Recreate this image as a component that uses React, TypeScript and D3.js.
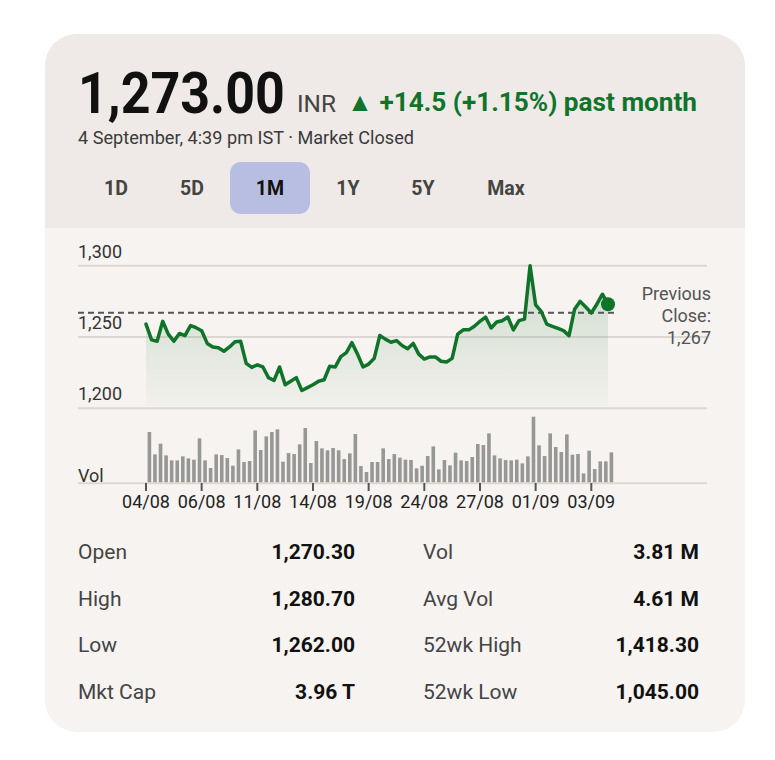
import React from "react";
import * as d3 from "d3";

const prices: number[] = [
  1259, 1248, 1247, 1261, 1252, 1247, 1252.5, 1251, 1258, 1256.5,
  1254.4, 1245.5, 1243, 1242.5, 1240, 1243, 1246.7, 1247, 1231.5, 1228.7,
  1230.5, 1229, 1221.5, 1219.5, 1229, 1216.5, 1219, 1221.5, 1212.5, 1214.5,
  1216.5, 1219, 1220, 1229.5, 1229, 1236.2, 1239, 1246, 1238, 1229,
  1231, 1235, 1251, 1248.5, 1246.3, 1247.5, 1244, 1241.8, 1245.5, 1238,
  1234.5, 1236, 1236, 1233, 1232.5, 1235, 1252, 1255, 1255, 1257.5,
  1261, 1264, 1256.3, 1260.5, 1261.4, 1264, 1255, 1261.5, 1262.5, 1300,
  1272.5, 1268, 1259, 1257.5, 1256, 1254.5, 1251, 1269.5, 1275, 1271,
  1266.8, 1273, 1280, 1273,
];

const volumes: number[] = [
  152, 85, 117, 82, 67, 67, 79, 73, 69, 133,
  67, 44, 85, 83, 74, 51, 100, 62, 65, 157,
  98, 139, 152, 160, 63, 89, 86, 115, 164, 59,
  125, 103, 97, 104, 97, 71, 88, 146, 50, 32,
  62, 62, 103, 71, 86, 75, 69, 68, 43, 51,
  80, 109, 40, 68, 52, 90, 67, 65, 77, 116,
  113, 148, 82, 73, 68, 67, 69, 58, 79, 198,
  112, 80, 148, 107, 92, 145, 84, 86, 28, 96,
  41, 64, 64, 91,
];

const xTickIdx: number[] = [0, 10, 20, 30, 40, 50, 60, 70, 80];
const xTickLabels: string[] = ["04/08", "06/08", "11/08", "14/08", "19/08", "24/08", "27/08", "01/09", "03/09"];
const yTicks: number[] = [1200, 1250, 1300];
const prevClose = 1267;
const lastPrice = 1273;

const tabs: string[] = ["1D", "5D", "1M", "1Y", "5Y", "Max"];
const statsLeftLabels: string[] = ["Open", "High", "Low", "Mkt Cap"];
const statsLeftValues: string[] = ["1,270.30", "1,280.70", "1,262.00", "3.96 T"];
const statsRightLabels: string[] = ["Vol", "Avg Vol", "52wk High", "52wk Low"];
const statsRightValues: string[] = ["3.81 M", "4.61 M", "1,418.30", "1,045.00"];

const FONT = "Roboto, 'Noto Sans', sans-serif";
const GREEN = "#0f7429";

export default function App() {
  const n = prices.length;
  const x = d3.scaleLinear().domain([0, n - 1]).range([146, 608]);
  const y = d3.scaleLinear().domain([1200, 1300]).range([408.3, 265.7]);
  const yv = d3.scaleLinear().domain([0, d3.max(volumes)!]).range([482.7, 416.7]);

  const line = d3.line<number>().x((_, i) => x(i)).y((d) => y(d));
  const area = d3
    .area<number>()
    .x((_, i) => x(i))
    .y0(y(1200) - 2)
    .y1((d) => y(d));

  const cardPath = "M 77 34 H 713 A 32 32 0 0 1 745 66 V 700 A 32 32 0 0 1 713 732 H 77 A 32 32 0 0 1 45 700 V 66 A 32 32 0 0 1 77 34 Z";

  const tabX = [116, 192, 270, 348, 423, 506];
  const rowY = (i: number) => 559 + i * 46.5;

  return (
    <svg
      width={775}
      height={760}
      style={{ position: "absolute", left: 0, top: 0, background: "#ffffff" }}
      fontFamily={FONT}
    >
      <defs>
        <clipPath id="card">
          <path d={cardPath} />
        </clipPath>
        <linearGradient id="areaGrad" gradientUnits="userSpaceOnUse" x1={0} x2={0} y1={y(1300)} y2={y(1200)}>
          <stop offset="0%" stopColor="#2b7a3c" stopOpacity={0.2} />
          <stop offset="100%" stopColor="#2b7a3c" stopOpacity={0.02} />
        </linearGradient>
      </defs>

      <path d={cardPath} fill="#f6f3f0" />
      <rect x={45} y={34} width={700} height={194} fill="#efeae7" clipPath="url(#card)" />

      {/* header */}
      <text transform="translate(78,113) scale(1,1.1)" fontSize={52} fontWeight={700} fill="#111">1,273.00</text>
      <text x={297} y={112} fontSize={23} fill="#444" textLength={39} lengthAdjust="spacingAndGlyphs">INR</text>
      <text x={347} y={111} fontSize={26} fontWeight={700} fill={GREEN} textLength={350} lengthAdjust="spacingAndGlyphs">▲ +14.5 (+1.15%) past month</text>
      <text x={78} y={144} fontSize={18} fill="#3a3a3a" textLength={336} lengthAdjust="spacingAndGlyphs">4 September, 4:39 pm IST · Market Closed</text>

      <rect x={230} y={162} width={80} height={52} rx={11} fill="#b8bee2" />
      {tabs.map((t, i) => (
        <text key={t} x={tabX[i]} y={195} fontSize={19.5} fontWeight={700} textAnchor="middle" fill={t === "1M" ? "#111" : "#444"}>
          {t}
        </text>
      ))}

      {/* gridlines */}
      {yTicks.map((t) => (
        <g key={t}>
          <line x1={78} x2={707} y1={y(t)} y2={y(t)} stroke="#dcd7d3" strokeWidth={2} />
          <text x={78} y={y(t) - 8} fontSize={18} fill="#333">{d3.format(",")(t)}</text>
        </g>
      ))}

      {/* area + line */}
      <path d={area(prices) || ""} fill="url(#areaGrad)" />
      <line x1={78} x2={618} y1={y(prevClose)} y2={y(prevClose)} stroke="#555" strokeWidth={2} strokeDasharray="6,4" />
      <path d={line(prices) || ""} fill="none" stroke={GREEN} strokeWidth={3.5} strokeLinejoin="round" strokeLinecap="round" />
      <circle cx={x(n - 1)} cy={y(lastPrice)} r={7} fill={GREEN} />

      <text x={711} y={300} fontSize={18} fill="#555" textAnchor="end">Previous</text>
      <text x={711} y={322} fontSize={18} fill="#555" textAnchor="end">Close:</text>
      <text x={711} y={344} fontSize={18} fill="#555" textAnchor="end">{d3.format(",")(prevClose)}</text>

      {/* volume */}
      {volumes.map((v, i) => (
        <rect key={i} x={x(i) + 1.6} y={yv(v)} width={3.6} height={yv(0) - yv(v)} fill="#979795" />
      ))}
      <line x1={78} x2={707} y1={yv(0) + 0.5} y2={yv(0) + 0.5} stroke="#dcd8d4" strokeWidth={2} />
      <text x={78} y={482} fontSize={18} fill="#333">Vol</text>

      {xTickIdx.map((ti, k) => (
        <g key={ti}>
          <line x1={x(ti)} x2={x(ti)} y1={483} y2={491} stroke="#555" strokeWidth={2} />
          <text x={x(ti)} y={508} fontSize={18} textAnchor="middle" fill="#222">{xTickLabels[k]}</text>
        </g>
      ))}

      {/* stats */}
      {statsLeftLabels.map((l, i) => (
        <g key={l}>
          <text x={78} y={rowY(i)} fontSize={21} fill="#444">{l}</text>
          <text x={355} y={rowY(i)} fontSize={21} fontWeight={700} fill="#111" textAnchor="end">{statsLeftValues[i]}</text>
          <text x={423} y={rowY(i)} fontSize={21} fill="#444">{statsRightLabels[i]}</text>
          <text x={699} y={rowY(i)} fontSize={21} fontWeight={700} fill="#111" textAnchor="end">{statsRightValues[i]}</text>
        </g>
      ))}
    </svg>
  );
}
